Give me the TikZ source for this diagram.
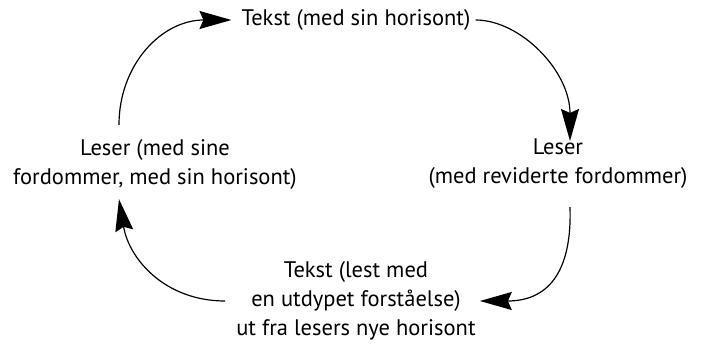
\documentclass[tikz,border=0pt]{standalone}
\usepackage{fontspec}
\setmainfont{PT Sans}
\usetikzlibrary{arrows.meta}
\begin{document}
\begin{tikzpicture}[x=1pt,y=-1pt,
  lbl/.style={align=center,inner sep=3pt,font=\fontsize{22.5}{29}\selectfont},
  arr/.style={line width=1.2pt,-{Stealth[length=32pt,width=18pt,inset=4pt]}}]
\useasboundingbox (0,0) rectangle (702,345);
\node[lbl] (top) at (356,20) {Tekst (med sin horisont)};
\node[lbl] (left) at (155,164) {Leser (med sine\\fordommer, med sin horisont)};
\node[lbl] (right) at (558,164) {Leser\\(med reviderte fordommer)};
\node[lbl] (bot) at (356,301) {Tekst (lest med\\en utdypet forståelse)\\ut fra lesers nye horisont};
\draw[arr] ([xshift=-36pt,yshift=11pt]left.north) .. controls +(0,-60) and +(-70,0) .. ([xshift=-7pt]top.west);
\draw[arr] ([xshift=2pt]top.east) .. controls +(45,0) and +(0,-70) .. ([xshift=12pt,yshift=-5pt]right.north);
\draw[arr] ([xshift=12pt,yshift=-15pt]right.south) .. controls +(2,58) and +(73,0) .. ([xshift=1pt]bot.east);
\draw[arr] ([xshift=-8pt]bot.west) .. controls +(-60,0) and +(10,60) .. ([xshift=-36pt,yshift=-7pt]left.south);
\end{tikzpicture}
\end{document}
